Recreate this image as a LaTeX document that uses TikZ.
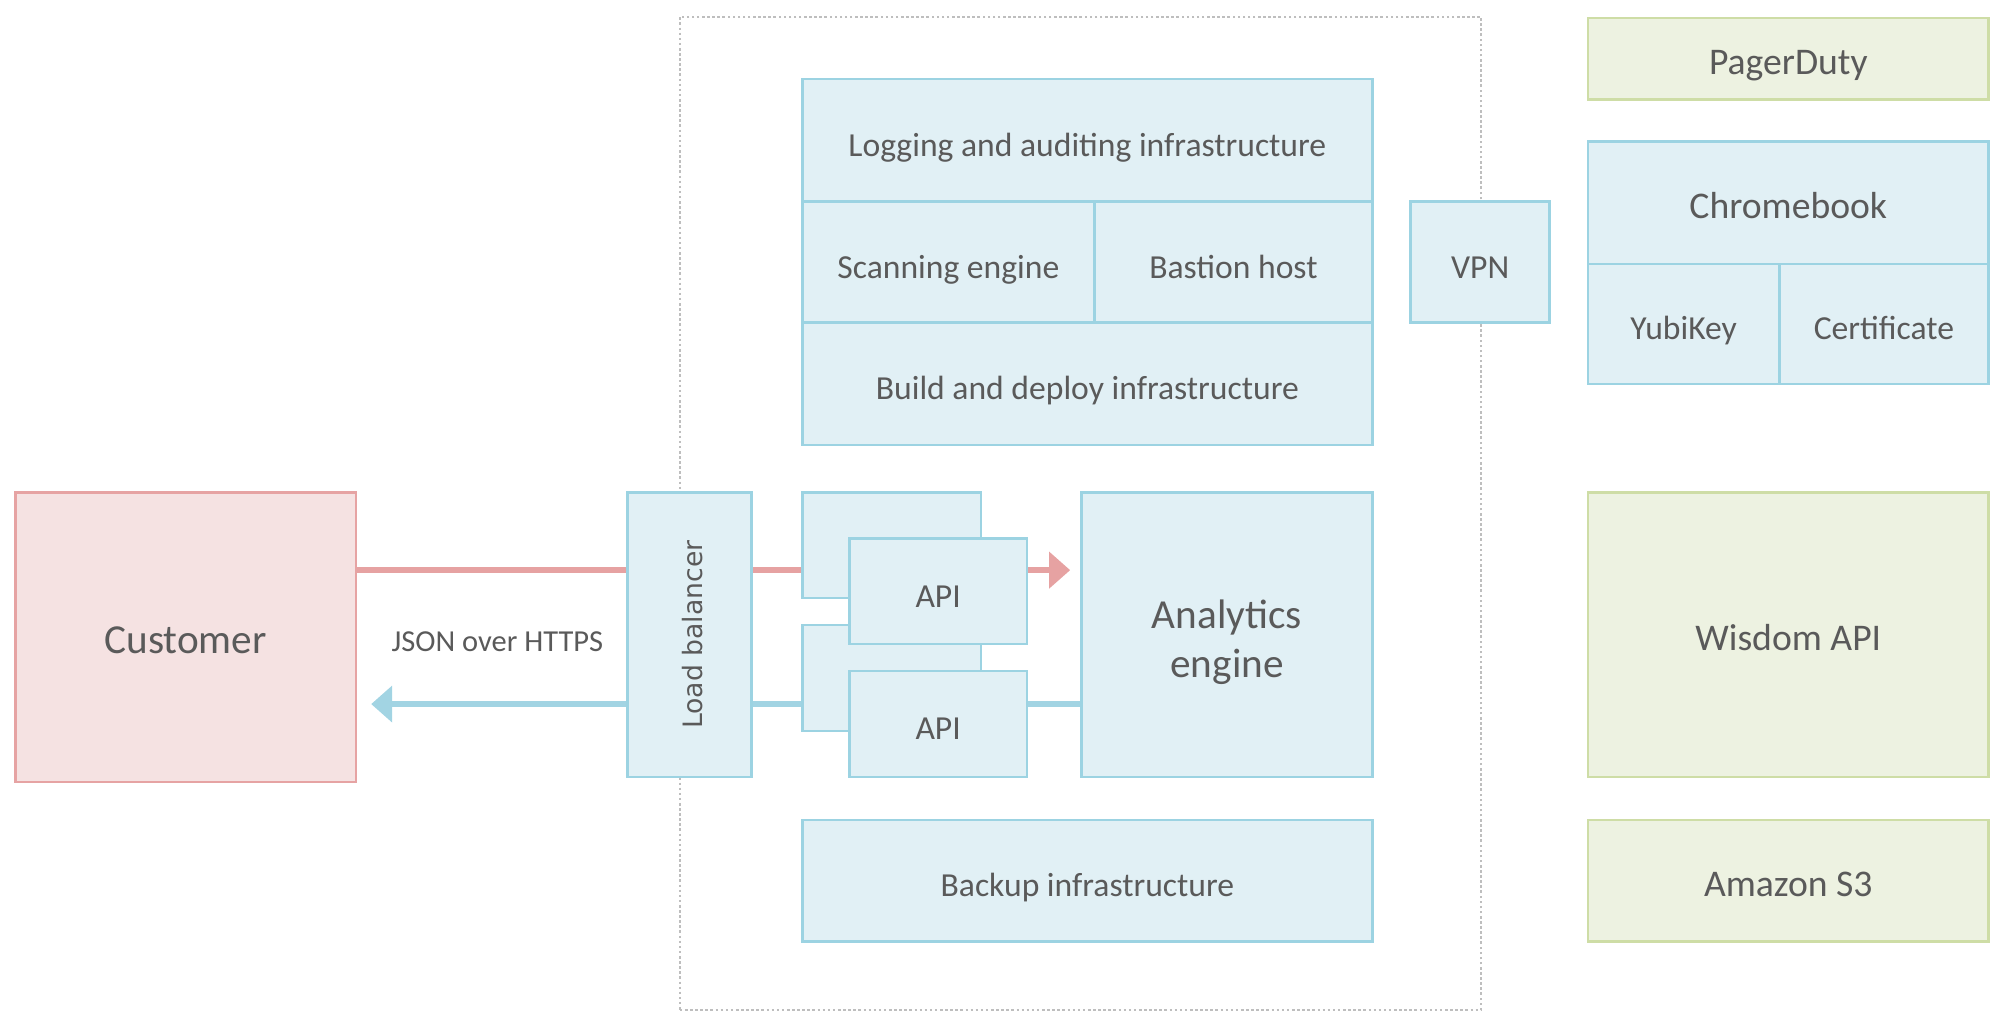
\documentclass[tikz,border=0pt]{standalone}
\usepackage{fontspec}
\setmainfont{Carlito}
\newfontfamily\lbfont{DejaVu Sans}
\usetikzlibrary{arrows.meta,backgrounds}
\definecolor{boxfill}{HTML}{E1F0F5}
\definecolor{boxline}{HTML}{9CD3E2}
\definecolor{custfill}{HTML}{F5E2E2}
\definecolor{custline}{HTML}{E6A3A3}
\definecolor{extfill}{HTML}{EDF2E1}
\definecolor{extline}{HTML}{CEDDA6}
\definecolor{reqline}{HTML}{E6A2A2}
\definecolor{respline}{HTML}{A2D4E3}
\definecolor{labelgray}{HTML}{5A5A5A}
\definecolor{dotgray}{HTML}{BEBEBE}
\tikzset{
  infobox/.style={draw=boxline,fill=boxfill,line width=0.04cm,text=labelgray,
    inner sep=0pt,text height=0.5cm,text depth=0pt,font=\fontsize{15}{18}\selectfont},
  extbox/.style={infobox,draw=extline,fill=extfill,font=\fontsize{16.8}{20}\selectfont},
  custbox/.style={infobox,draw=custline,fill=custfill,font=\fontsize{18.4}{22}\selectfont},
  flow/.style={line width=0.1cm,-{Triangle[length=0.33cm,width=0.56cm]}},
}
\begin{document}
\begin{tikzpicture}
    \useasboundingbox (0,0) rectangle (31.36,16);
    %% hosted environment
    \node[draw=dotgray,line width=0.03cm,dash pattern=on 0.04cm off 0.04cm,
      minimum width=12.56cm,minimum height=15.58cm,inner sep=0pt] (hosted) at (16.94,7.95) {};
    \node[infobox,minimum width=8.94cm,minimum height=1.92cm] (logging) at (17.05,13.80) {Logging and auditing infrastructure};
    \node[infobox,minimum width=4.58cm,minimum height=1.90cm] (scanning) at (14.87,11.89) {Scanning engine};
    \node[infobox,minimum width=4.36cm,minimum height=1.90cm] (bastion) at (19.34,11.89) {Bastion host};
    \node[infobox,minimum width=8.94cm,minimum height=1.92cm] (build) at (17.05,9.98) {Build and deploy infrastructure};
    \node[infobox,minimum width=2.18cm,minimum height=1.90cm] (vpn) at (23.21,11.89) {VPN};
    \node[infobox,minimum width=4.46cm,minimum height=1.94cm,text height=0.4cm,
      font=\lbfont\fontsize{11.9}{14}\selectfont,rotate=90] (lb) at (10.81,6.05) {Load balancer};
    \node[infobox,minimum width=2.80cm,minimum height=1.66cm] (apiback1) at (13.98,7.45) {};
    \node[infobox,minimum width=2.80cm,minimum height=1.66cm] (apiback2) at (13.98,5.37) {};
    \node[infobox,minimum width=2.78cm,minimum height=1.66cm] (api1) at (14.71,6.73) {API};
    \node[infobox,minimum width=2.78cm,minimum height=1.66cm] (api2) at (14.71,4.65) {API};
    \node[infobox,minimum width=4.56cm,minimum height=4.46cm,text height=0pt,
      font=\fontsize{18.4}{21.5}\selectfont] (analytics) at (19.24,6.05)
      {\raisebox{-0.29cm}{\begin{tabular}{@{}c@{}}Analytics\\engine\end{tabular}}};
    \node[infobox,minimum width=8.94cm,minimum height=1.90cm] (backup) at (17.05,2.19) {Backup infrastructure};
    %% customer
    \node[custbox,minimum width=5.34cm,minimum height=4.54cm] (customer) at (2.91,6.01) {Customer};
    \node[text=labelgray,font=\fontsize{13.6}{16}\selectfont] (json) at (7.80,5.93) {JSON over HTTPS};
    %% third parties and devices
    \node[extbox,minimum width=6.28cm,minimum height=1.28cm] (pagerduty) at (28.04,15.08) {PagerDuty};
    \node[infobox,minimum width=6.28cm,minimum height=1.92cm,font=\fontsize{16.8}{20}\selectfont] (chromebook) at (28.04,12.82) {Chromebook};
    \node[infobox,minimum width=3.00cm,minimum height=1.88cm] (yubikey) at (26.40,10.92) {YubiKey};
    \node[infobox,minimum width=3.28cm,minimum height=1.88cm] (certificate) at (29.54,10.92) {Certificate};
    \node[extbox,minimum width=6.28cm,minimum height=4.46cm] (wisdom) at (28.04,6.05) {Wisdom API};
    \node[extbox,minimum width=6.28cm,minimum height=1.90cm] (amazon) at (28.04,2.19) {Amazon S3};
    %% request and response
    \begin{pgfonlayer}{background}
      \draw[flow,draw=reqline,fill=reqline,shorten >=0.16cm] ([yshift=1.05cm]customer.east) -- ([yshift=1.05cm]customer.east -| analytics.west);
      \draw[flow,draw=respline,fill=respline,shorten >=0.22cm] ([yshift=-1.05cm]customer.east -| analytics.west) -- ([yshift=-1.05cm]customer.east);
    \end{pgfonlayer}
\end{tikzpicture}
\end{document}
